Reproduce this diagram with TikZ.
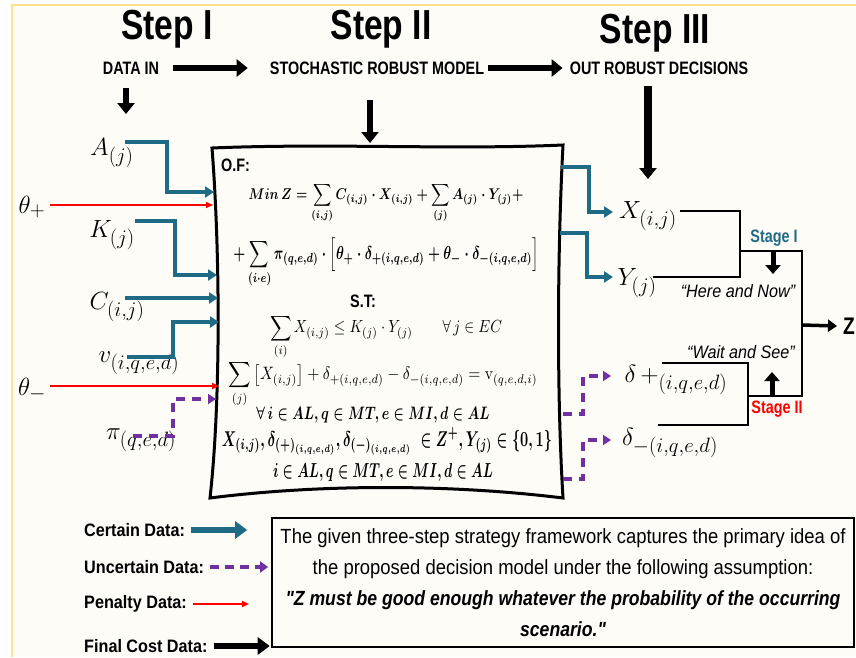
\documentclass[tikz,border=0pt]{standalone}
\usepackage{amsmath,amssymb}
\usepackage{graphicx}
\usepackage{fontspec}
\usetikzlibrary{arrows.meta}
\newfontfamily\condfont[FakeStretch=0.8]{Liberation Sans}
\newfontfamily\legfont[FakeStretch=0.9]{Liberation Sans}
\newfontfamily\notefont[FakeStretch=0.9]{Liberation Sans}
\newfontfamily\noteboldfont[FakeStretch=0.86]{Liberation Sans}
\definecolor{cblue}{HTML}{1F6B86}
\definecolor{cpurple}{HTML}{7030A0}
\definecolor{cream}{HTML}{FEFCF6}
\definecolor{cyellow}{HTML}{FFE08C}
\definecolor{cred}{HTML}{FF0000}
\newcommand\fitn[3]{\resizebox*{#1}{#2}{$\displaystyle #3$}}
\tikzset{
  steptitle/.style={font=\condfont\bfseries\fontsize{42}{46}\selectfont, inner sep=0},
  subt/.style={font=\condfont\bfseries\fontsize{18}{20}\selectfont, inner sep=0},
  lab/.style={font=\fontsize{30}{34}\selectfont, inner sep=0},
  legtext/.style={font=\legfont\bfseries\fontsize{18}{20}\selectfont, inner sep=0, anchor=west},
  bigarrow/.style={line width=6.5, -{Triangle[length=11,width=17]}},
  certain/.style={cblue, line width=3.5, -{Triangle[length=9,width=11]}},
  penalty/.style={cred, line width=1.5, -{Triangle[length=7,width=6]}},
  uncertain/.style={cpurple, line width=3.5, dash pattern=on 9 off 7, -{Triangle[length=8,width=10]}},
  thinline/.style={black, line width=1.2},
  stagefont/.style={font=\condfont\bfseries\fontsize{18}{20}\selectfont, inner sep=0},
  quotefont/.style={font=\legfont\itshape\fontsize{18}{20}\selectfont, inner sep=0},
  boldformula/.style={font=\boldmath},
}
\begin{document}
\begin{tikzpicture}[x=1pt,y=-1pt]
\useasboundingbox (0,0) rectangle (856,657);
\fill[cream] (11,4) rectangle (856,657);
\draw[cyellow, line width=2.5] (12,657) -- (12,5) -- (856,5);

% Step titles
\node[steptitle] (s1) at (167,29) {Step I};
\node[steptitle] (s2) at (381,29) {Step II};
\node[steptitle] (s3) at (655,33) {Step III};
\node[subt] (d1) at (131,68) {DATA IN};
\node[subt] (d2) at (377,68) {STOCHASTIC ROBUST MODEL};
\node[subt] (d3) at (659,68) {OUT ROBUST DECISIONS};
\draw[bigarrow] ([xshift=14]d1.east) -- ([xshift=-22]d2.west);
\draw[bigarrow] ([xshift=4]d2.east) -- ([xshift=-7]d3.west);
\coordinate (dinA) at (126,88);
\coordinate (dinB) at (126,114);
\draw[bigarrow] (dinA) -- (dinB);
\coordinate (smA) at (370,100);
\coordinate (smB) at (370,143);
\draw[bigarrow] (smA) -- (smB);
\coordinate (orA) at (648,86);
\coordinate (orB) at (648,179);
\draw[bigarrow, line width=8] (orA) -- (orB);

% main box
\draw[line width=3, fill=cream] (212,148) .. controls (330,143) and (450,150) .. (563,145)
  .. controls (557,260) and (557,400) .. (563,498)
  .. controls (450,484) and (320,484) .. (210,498)
  .. controls (221,400) and (220,250) .. cycle;
\node[anchor=west, font=\condfont\bfseries\fontsize{18}{20}\selectfont, inner sep=0] (of) at (221,165) {O.F:};
\node[boldformula] (l1) at (386,203) {\fitn{275pt}{40pt}{Min\,Z=\sum_{(i,j)}C_{(i,j)}\cdot X_{(i,j)}+\sum_{(j)}A_{(j)}\cdot Y_{(j)}+}};
\node[boldformula] (l2) at (386,263) {\fitn{305pt}{50pt}{+\sum_{(i\cdot e)}\pi_{(q,e,d)}\cdot\Big[\theta_{+}\cdot\delta_{+(i,q,e,d)}+\theta_{-}\cdot\delta_{-(i,q,e,d)}\Big]}};
\node[font=\condfont\bfseries\fontsize{18}{20}\selectfont, inner sep=0] (st) at (363,301) {S.T:};
\node (l3) at (386,337) {\fitn{232pt}{45pt}{\sum_{(i)}X_{(i,j)}\le K_{(j)}\cdot Y_{(j)}\qquad\forall\,j\in EC}};
\node (l4) at (383,384) {\fitn{309pt}{46pt}{\sum_{(j)}\big[X_{(i,j)}\big]+\delta_{+(i,q,e,d)}-\delta_{-(i,q,e,d)}=\mathrm{v}_{(q,e,d,i)}}};
\node[boldformula] (l5) at (373,415) {\fitn{233pt}{16pt}{\forall\,i\in AL,q\in MT,e\in MI,d\in AL}};
\node[boldformula] (l6) at (387,441) {\fitn{330pt}{28pt}{X_{(i,j)},\delta_{(+)_{(i,q,e,d)}},\delta_{(-)_{(i,q,e,d)}}\;\in Z^{+},Y_{(j)}\in\{0,1\}}};
\node[boldformula] (l7) at (383,472) {\fitn{220pt}{18pt}{i\in AL,q\in MT,e\in MI,d\in AL}};

% left inputs
\node[lab] (A) at (112,153) {$A_{(j)}$};
\node[lab] (thp) at (32,207) {$\theta_{+}$};
\node[lab] (K) at (112,235) {$K_{(j)}$};
\node[lab] (C) at (117,307) {$C_{(i,j)}$};
\node[lab] (v) at (139,363) {$v_{(i,q,e,d)}$};
\node[lab] (thm) at (32,390) {$\theta_{-}$};
\node[lab] (pi) at (141,440) {$\pi_{(q,e,d)}$};

\coordinate (As) at (125,142); \coordinate (Ab) at (167,192); \coordinate (Ae) at (214,192);
\draw[certain] (As) -| (Ab) -- (Ae);
\coordinate (Ks) at (135,221); \coordinate (Kb) at (175,275); \coordinate (Ke) at (217,275);
\draw[certain] (Ks) -| (Kb) -- (Ke);
\coordinate (Cs) at (125,298); \coordinate (Ce) at (218,298);
\draw[certain] (Cs) -- (Ce);
\coordinate (vs) at (127,357); \coordinate (vb) at (173,322); \coordinate (ve) at (219,322);
\draw[certain] (vs) -| (vb) -- (ve);
\coordinate (tps) at (50,205); \coordinate (tpe) at (213,205);
\draw[penalty] (tps) -- (tpe);
\coordinate (tms) at (50,386); \coordinate (tme) at (219,386);
\draw[penalty] (tms) -- (tme);
\coordinate (ps) at (133,436); \coordinate (pb) at (173,399); \coordinate (pe) at (216,399);
\draw[uncertain] (ps) -| (pb) -- (pe);

% right outputs
\node[lab] (X) at (648,216) {$X_{(i,j)}$};
\node[lab] (Y) at (637,283) {$Y_{(j)}$};
\node[lab] (dp) at (676,380) {$\delta\,+_{(i,q,e,d)}$};
\node[lab] (dm) at (670,443) {$\delta_{-(i,q,e,d)}$};

\coordinate (xs) at (561,167); \coordinate (xb) at (589,212); \coordinate (xe) at (613,212);
\draw[certain] (xs) -| (xb) -- (xe);
\coordinate (ys) at (560,233); \coordinate (yb) at (587,277); \coordinate (ye) at (613,277);
\draw[certain] (ys) -| (yb) -- (ye);

\coordinate (ups) at (563,414); \coordinate (upb) at (583,376); \coordinate (upe) at (611,376);
\draw[uncertain] (ups) -| (upb) -- (upe);
\coordinate (dns) at (563,479); \coordinate (dnb) at (583,440); \coordinate (dne) at (611,440);
\draw[uncertain] (dns) -| (dnb) -- (dne);

\coordinate (xl) at (680,211); \coordinate (j1) at (740,251);
\coordinate (yl) at (653,277);
\coordinate (zt) at (802,251); \coordinate (zb) at (802,396);
\coordinate (dl) at (662,363); \coordinate (j2) at (748,425); \coordinate (dml) at (658,425);
\coordinate (j2m) at (748,396);
\draw[thinline] (xl) -| (j1);
\draw[thinline] (yl) -| (j1);
\draw[thinline] (j1) -- (zt) -- (zb) -- (j2m);
\draw[thinline] (dl) -| (j2) -- (dml);

\node[stagefont, text=cblue] (st1) at (774,238) {Stage I};
\node[quotefont] (hn) at (738,291) {“Here and Now”};
\node[quotefont] (ws) at (741,352) {“Wait and See”};
\node[stagefont, text=cred] (st2) at (777,409) {Stage II};
\coordinate (a1s) at (773,251); \coordinate (a1e) at (773,274);
\draw[black, line width=5, -{Triangle[length=9,width=15]}] (a1s) -- (a1e);
\coordinate (a2s) at (772,396); \coordinate (a2e) at (772,372);
\draw[black, line width=5, -{Triangle[length=9,width=15]}] (a2s) -- (a2e);

\node[font=\condfont\bfseries\fontsize{24}{26}\selectfont, inner sep=0, anchor=west] (Z) at (843,326) {Z};
\coordinate (zm) at (802,325);
\draw[black, line width=3.5, -{Triangle[length=9,width=12]}] (zm) -- ([xshift=-6]Z.west);

% legend
\node[legtext] (lc) at (84,530) {Certain Data:};
\node[legtext] (lu) at (84,567) {Uncertain Data:};
\node[legtext] (lp) at (84,604) {Penalty Data:};
\node[legtext] (lf) at (84,646) {Final Cost Data:};
\draw[cblue, line width=6, -{Triangle[length=12,width=17]}] ([xshift=6]lc.east) -- ++(56,0);
\draw[cpurple, line width=3.5, dash pattern=on 9 off 6, -{Triangle[length=8,width=11]}] ([xshift=6]lu.east) -- ++(58,0);
\draw[cred, line width=1.8, -{Triangle[length=7,width=6]}] ([xshift=6]lp.east) -- ++(56,0);
\draw[black, line width=6, -{Triangle[length=12,width=17]}] ([xshift=6]lf.east) -- ++(56,0);

\node[draw, line width=1.5, minimum width=582, minimum height=129, inner sep=0,
  font=\notefont\fontsize{20.5}{31}\selectfont, align=center] (note) at (563,582.5)
  {The given three-step strategy framework captures the primary idea of\\
   the proposed decision model under the following assumption:\\
   {\noteboldfont\bfseries\itshape "Z must be good enough whatever the probability of the occurring}\\
   {\noteboldfont\bfseries\itshape scenario."}};
\end{tikzpicture}
\end{document}
